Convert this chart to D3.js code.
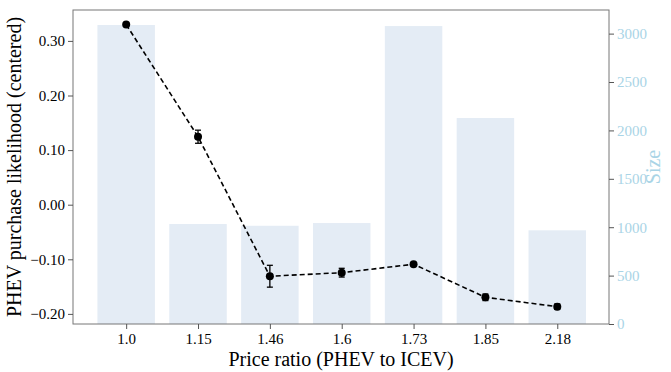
<!DOCTYPE html>
<html>
<head>
<meta charset="utf-8">
<script src="https://cdn.jsdelivr.net/npm/d3@7"></script>
<style>
  body { margin: 0; background: #fff; }
  svg text { font-family: "Liberation Serif", "DejaVu Serif", serif; }
</style>
</head>
<body>
<div class="canvas"></div>
<script>
// Data
const ratios = ["1.0", "1.15", "1.46", "1.6", "1.73", "1.85", "2.18"];
const likelihood = [0.330, 0.1245, -0.131, -0.1245, -0.109, -0.1696, -0.1868];
const likelihoodErr = [0.002, 0.012, 0.020, 0.008, 0.003, 0.006, 0.005];
const sizes = [3089, 1033, 1015, 1043, 3078, 2128, 968];
const leftTicks = [-0.2, -0.1, 0.0, 0.1, 0.2, 0.3];
const rightTicks = [0, 500, 1000, 1500, 2000, 2500, 3000];

const dims = { width: 671, height: 372 };
const plot = { left: 73, right: 609, top: 10, bottom: 324 };
const serif = "'Liberation Serif', 'DejaVu Serif', serif";

const svg = d3
  .select(".canvas")
  .append("svg")
  .attr("width", dims.width)
  .attr("height", dims.height);

// Scales
const idx = ratios.map((d, i) => i);
const x = d3.scaleLinear().domain([-0.74, 6.72]).range([plot.left, plot.right]);
const yLeft = d3.scaleLinear().domain([-0.2185, 0.3566]).range([plot.bottom, plot.top]);
const yRight = d3.scaleLinear().domain([0, 3244]).range([plot.bottom, plot.top]);
const barW = x(0.4) - x(-0.4);

// Bars (size, right axis)
svg
  .append("g")
  .selectAll("rect")
  .data(sizes)
  .enter()
  .append("rect")
  .attr("x", (d, i) => x(i) - barW / 2)
  .attr("width", barW)
  .attr("y", (d) => yRight(d))
  .attr("height", (d) => yRight(0) - yRight(d))
  .attr("fill", "#e4ecf5");

// Dashed line
const line = d3
  .line()
  .x((d, i) => x(i))
  .y((d) => yLeft(d));

svg
  .append("path")
  .datum(likelihood)
  .attr("d", line)
  .attr("fill", "none")
  .attr("stroke", "#000")
  .attr("stroke-width", 1.6)
  .attr("stroke-dasharray", "5,3");

// Error bars
const err = svg.append("g").attr("stroke", "#000").attr("stroke-width", 1.3);
likelihood.forEach((v, i) => {
  const e = likelihoodErr[i];
  const cx = x(i);
  err.append("line").attr("x1", cx).attr("x2", cx)
    .attr("y1", yLeft(v - e)).attr("y2", yLeft(v + e));
  [v - e, v + e].forEach((c) => {
    err.append("line").attr("x1", cx - 3).attr("x2", cx + 3)
      .attr("y1", yLeft(c)).attr("y2", yLeft(c));
  });
});

// Points
svg
  .append("g")
  .selectAll("circle")
  .data(likelihood)
  .enter()
  .append("circle")
  .attr("cx", (d, i) => x(i))
  .attr("cy", (d) => yLeft(d))
  .attr("r", 4)
  .attr("fill", "#000");

// Frame
svg
  .append("rect")
  .attr("x", plot.left)
  .attr("y", plot.top)
  .attr("width", plot.right - plot.left)
  .attr("height", plot.bottom - plot.top)
  .attr("fill", "none")
  .attr("stroke", "#777")
  .attr("stroke-width", 1);

// Axes
const styleAxis = (g, color) => {
  g.attr("font-family", serif).attr("font-size", 15);
  g.select(".domain").remove();
  g.selectAll(".tick line").attr("stroke", "#555");
  g.selectAll(".tick text").attr("fill", color);
};

svg
  .append("g")
  .attr("transform", `translate(${plot.left},0)`)
  .call(d3.axisLeft(yLeft).tickValues(leftTicks).tickFormat(d3.format(".2f")).tickSize(5).tickPadding(3))
  .call((g) => styleAxis(g, "#000"));

svg
  .append("g")
  .attr("transform", `translate(${plot.right},0)`)
  .call(d3.axisRight(yRight).tickValues(rightTicks).tickSize(5).tickPadding(3).tickFormat(d3.format("d")))
  .call((g) => styleAxis(g, "#a9d4e6"));

svg
  .append("g")
  .attr("transform", `translate(0,${plot.bottom})`)
  .call(d3.axisBottom(x).tickValues(idx).tickFormat((i) => ratios[i]).tickSize(5).tickPadding(4))
  .call((g) => styleAxis(g, "#000"));

// Axis labels
svg
  .append("text")
  .attr("x", (plot.left + plot.right) / 2)
  .attr("y", 366)
  .attr("text-anchor", "middle")
  .style("font-size", "20px")
  .text("Price ratio (PHEV to ICEV)");

svg
  .append("text")
  .attr("transform", `translate(21,${(plot.top + plot.bottom) / 2}) rotate(-90)`)
  .attr("text-anchor", "middle")
  .style("font-size", "20px")
  .text("PHEV purchase likelihood (centered)");

svg
  .append("text")
  .attr("transform", `translate(660,${(plot.top + plot.bottom) / 2}) rotate(-90)`)
  .attr("text-anchor", "middle")
  .attr("fill", "#a9d4e6")
  .style("font-size", "20px")
  .text("Size");
</script>
</body>
</html>
